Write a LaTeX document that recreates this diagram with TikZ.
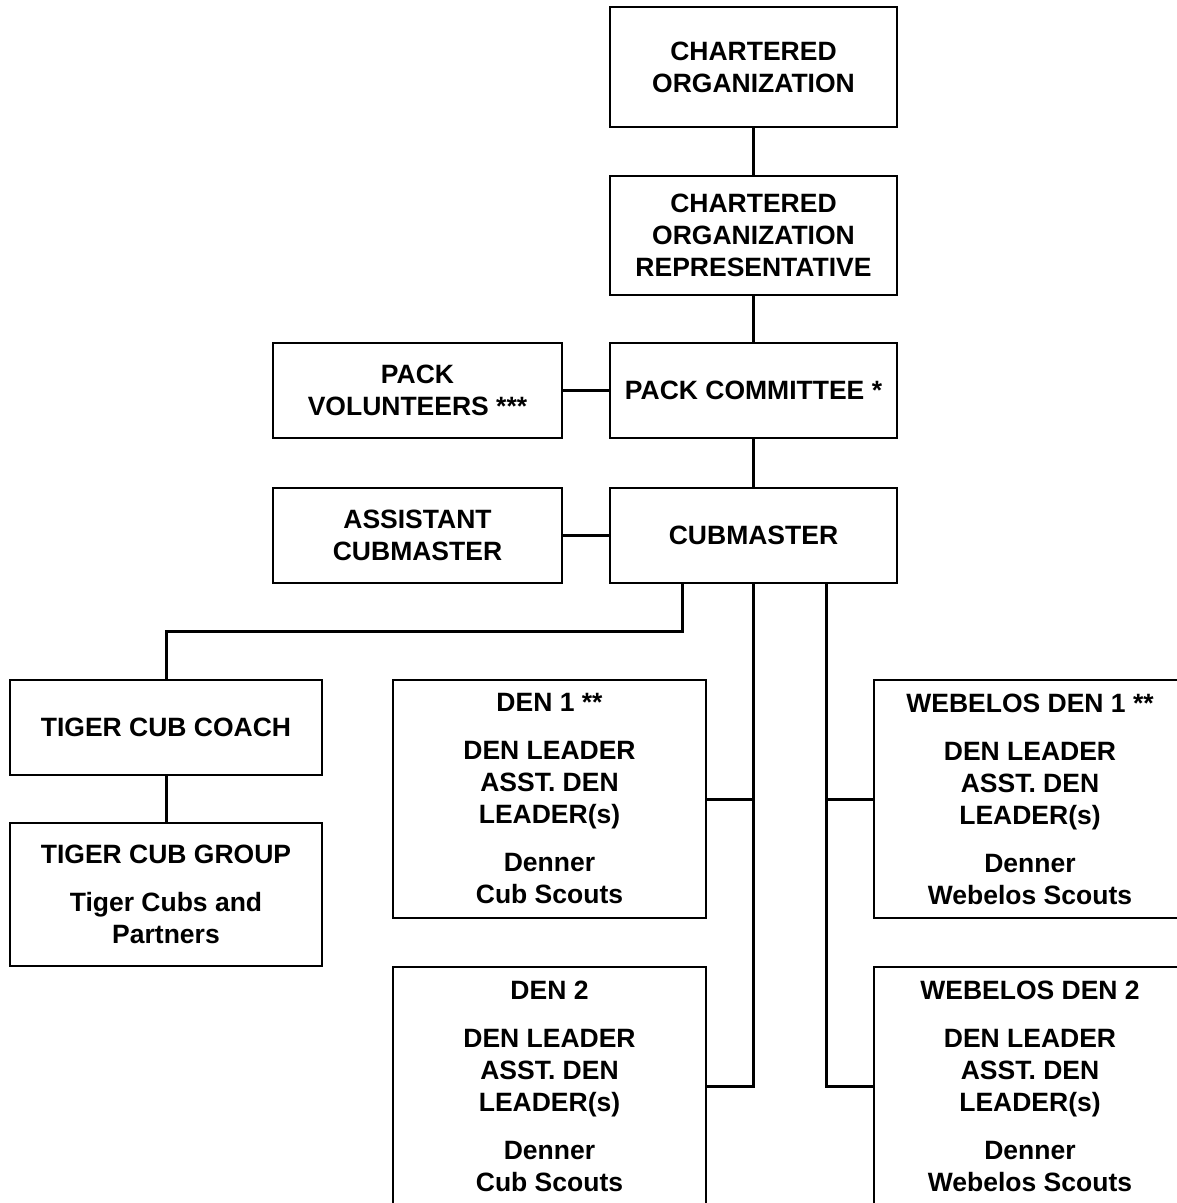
\documentclass[tikz,border=0pt]{standalone}
\usepackage{fontspec}
\setmainfont{Liberation Sans}
\begin{document}
\begin{tikzpicture}[x=1pt,y=-1pt,
  box/.style={draw=black, line width=2pt, inner sep=0pt, align=center,
    font=\fontsize{26.5}{32}\selectfont\bfseries},
  conn/.style={draw=black, line width=3pt}]
\useasboundingbox (0,0) rectangle (1177,1203);
\fill[white] (0,0) rectangle (1177,1203);
\clip (0,0) rectangle (1177,1203);
\node[box, minimum width=287pt, minimum height=120pt] (co) at (753.5,67) {CHARTERED\\ORGANIZATION};
\node[box, minimum width=287pt, minimum height=119pt] (cor) at (753.5,235.5) {CHARTERED\\ORGANIZATION\\REPRESENTATIVE};
\node[box, minimum width=287pt, minimum height=95pt] (pc) at (753.5,390.5) {PACK COMMITTEE *};
\node[box, minimum width=289pt, minimum height=95pt] (pv) at (417.5,390.5) {PACK\\VOLUNTEERS ***};
\node[box, minimum width=287pt, minimum height=95pt] (cm) at (753.5,535.5) {CUBMASTER};
\node[box, minimum width=289pt, minimum height=95pt] (acm) at (417.5,535.5) {ASSISTANT\\CUBMASTER};
\node[box, minimum width=312pt, minimum height=95pt] (tcc) at (166,727) {TIGER CUB COACH};
\node[box, minimum width=312pt, minimum height=143pt] (tcg) at (166,894.5) {TIGER CUB GROUP\\[16pt]Tiger Cubs and\\Partners};
\node[box, minimum width=313pt, minimum height=238pt] (d1) at (549.5,799) {DEN 1 **\\[16pt]DEN LEADER\\ASST. DEN\\LEADER(s)\\[16pt]Denner\\Cub Scouts};
\node[box, minimum width=313pt, minimum height=238pt] (d2) at (549.5,1086) {DEN 2\\[16pt]DEN LEADER\\ASST. DEN\\LEADER(s)\\[16pt]Denner\\Cub Scouts};
\node[box, minimum width=312pt, minimum height=238pt] (w1) at (1030,799) {WEBELOS DEN 1 **\\[16pt]DEN LEADER\\ASST. DEN\\LEADER(s)\\[16pt]Denner\\Webelos Scouts};
\node[box, minimum width=312pt, minimum height=238pt] (w2) at (1030,1086) {WEBELOS DEN 2\\[16pt]DEN LEADER\\ASST. DEN\\LEADER(s)\\[16pt]Denner\\Webelos Scouts};
\coordinate (j) at (682,631);
\coordinate (k) at (826,583);
\path[conn] (co.south) -- (cor.north);
\path[conn] (cor.south) -- (pc.north);
\path[conn] (pv.east) -- (pc.west);
\path[conn] (pc.south) -- (cm.north);
\path[conn] (acm.east) -- (cm.west);
\path[conn] (j |- cm.south) -- (j) -| (tcc.north);
\path[conn] (tcc.south) -- (tcg.north);
\path[conn] (cm.south) |- (d2.east);
\path[conn] (d1.east) -- (d1.east -| cm.south);
\path[conn] (k |- cm.south) |- (w2.west);
\path[conn] (w1.west) -- (w1.west -| k);
\end{tikzpicture}
\end{document}
